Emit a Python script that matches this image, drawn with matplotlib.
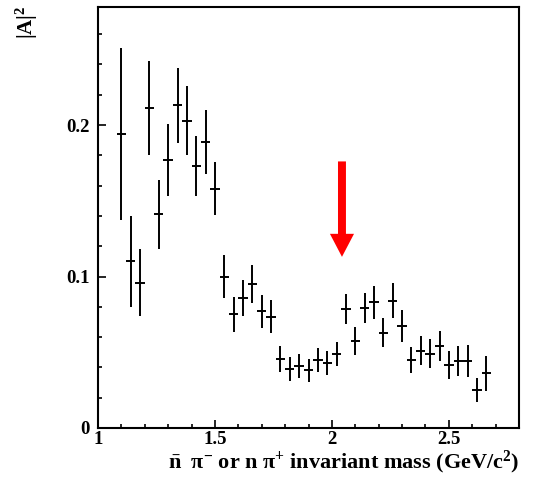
import numpy as np
import matplotlib
matplotlib.use('Agg')
import matplotlib.pyplot as plt
from matplotlib.ticker import MultipleLocator

plt.rcParams['font.family'] = ['Liberation Serif', 'DejaVu Serif']
plt.rcParams['font.weight'] = 'bold'
plt.rcParams['mathtext.fontset'] = 'custom'
plt.rcParams['mathtext.rm'] = 'Liberation Serif:bold'
plt.rcParams['mathtext.it'] = 'Liberation Serif:bold'
plt.rcParams['mathtext.bf'] = 'Liberation Serif:bold'
plt.rcParams['mathtext.default'] = 'rm'

# Bin centres (GeV/c^2), |A|^2 and its error
mass = [1.10, 1.14, 1.18, 1.22, 1.26, 1.30, 1.34, 1.38, 1.42, 1.46,
        1.50, 1.54, 1.58, 1.62, 1.66, 1.70, 1.74, 1.78, 1.82, 1.86,
        1.90, 1.94, 1.98, 2.02, 2.06, 2.10, 2.14, 2.18, 2.22, 2.26,
        2.30, 2.34, 2.38, 2.42, 2.46, 2.50, 2.54, 2.58, 2.62, 2.66]
amp2 = [0.194, 0.110, 0.096, 0.211, 0.141, 0.177, 0.213, 0.203, 0.173, 0.189,
        0.158, 0.100, 0.075, 0.086, 0.095, 0.077, 0.0735, 0.0455, 0.039, 0.041,
        0.038, 0.045, 0.043, 0.0486, 0.0785, 0.0574, 0.079, 0.083, 0.063, 0.084,
        0.0675, 0.045, 0.051, 0.049, 0.054, 0.0416, 0.044, 0.044, 0.025, 0.036]
err = [0.057, 0.030, 0.022, 0.031, 0.023, 0.024, 0.025, 0.023, 0.020, 0.021,
       0.0175, 0.014, 0.0115, 0.012, 0.0125, 0.011, 0.011, 0.0085, 0.008, 0.008,
       0.0075, 0.008, 0.008, 0.008, 0.010, 0.009, 0.010, 0.011, 0.0095, 0.0115,
       0.0105, 0.0087, 0.0095, 0.0095, 0.010, 0.009, 0.010, 0.0105, 0.008, 0.0118]
bin_half = 0.02

# Arrow marking the mass of interest
arrow_x = 2.043
arrow_top = 0.176
arrow_tip = 0.113

fig = plt.figure(figsize=(5.34, 4.79), dpi=100)
ax = fig.add_axes([0.1835, 0.1065, 0.7885, 0.879])

ax.errorbar(mass, amp2, yerr=err, xerr=bin_half, fmt='none',
            ecolor='black', elinewidth=1.4, capsize=0)

ax.arrow(arrow_x, arrow_top, 0, arrow_tip - arrow_top, width=0.034,
         head_width=0.103, head_length=0.0152, length_includes_head=True,
         color='red', linewidth=0)

ax.set_xlim(1.0, 2.8)
ax.set_ylim(0, 0.278)
ax.xaxis.set_major_locator(MultipleLocator(0.5))
ax.xaxis.set_minor_locator(MultipleLocator(0.1))
ax.yaxis.set_major_locator(MultipleLocator(0.1))
ax.yaxis.set_minor_locator(MultipleLocator(0.02))
ax.xaxis.set_major_formatter(plt.FuncFormatter(lambda v, p: '%g' % v))
ax.yaxis.set_major_formatter(plt.FuncFormatter(lambda v, p: '%g' % v))

ax.tick_params(which='both', direction='in', top=False, right=False,
               labelsize=13.5, width=1.2)
ax.tick_params(which='major', length=6)
ax.tick_params(which='minor', length=3)
ax.tick_params(axis='y', pad=6)
ax.tick_params(axis='x', pad=2)
for s in ax.spines.values():
    s.set_linewidth(1.5)

ax.set_xlabel(r'$\bar{\mathrm{n}}\;\;\pi^{-}$ or n $\pi^{+}$ invariant mass (GeV/c$^{2}$)',
              fontsize=16, fontweight='bold', ha='right', x=1.0, labelpad=0.5)
fig.text(0.05, 0.988, r'|A|$^{2}$', rotation=90, ha='center', va='top',
         fontsize=15, fontweight='bold')

fig.savefig('out.png', dpi=100)
